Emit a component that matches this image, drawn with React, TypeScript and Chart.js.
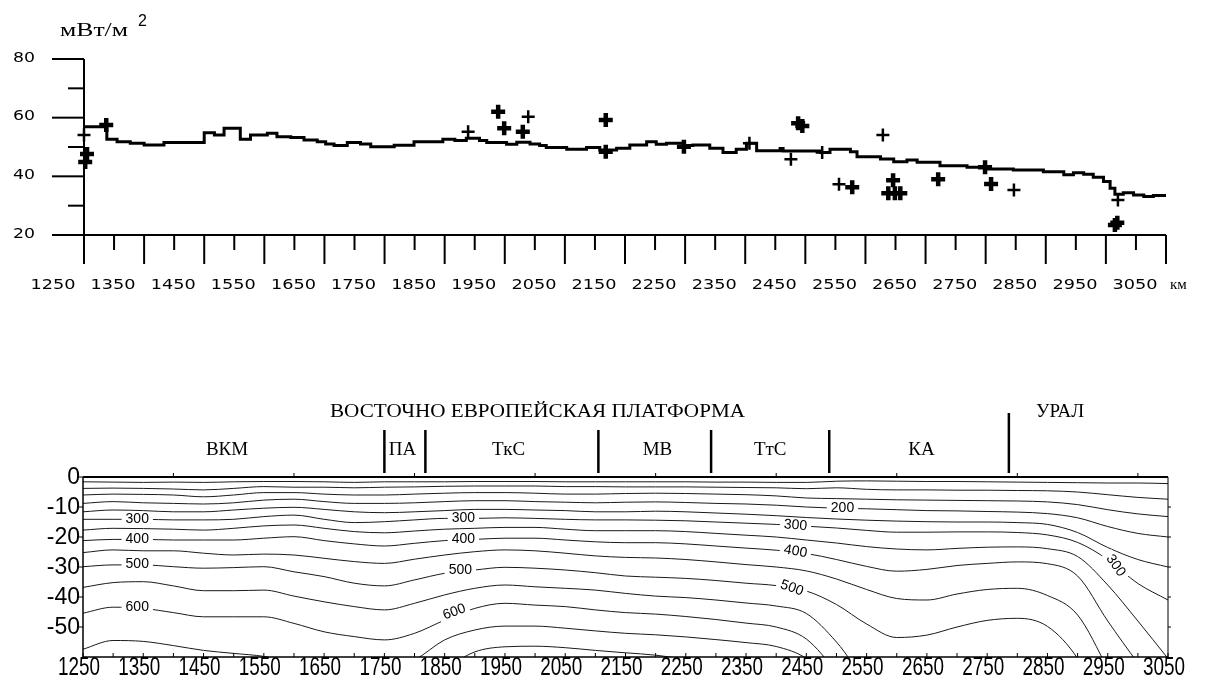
import React, { useEffect, useRef } from 'react';
import { Chart, registerables } from 'chart.js';
Chart.register(...registerables);

const W = 1218;
const H = 684;

// ---------- top panel: heat flow (мВт/м2) ----------
const heatStepKm = [1250,1288,1305,1327,1350,1383,1450,1467,1483,1510,1527,1555,1571,1594,1616,1638,1652,1666,1688,1710,1727,1766,1799,1847,1867,1886,1908,1920,1953,1970,1992,2008,2019,2053,2086,2108,2136,2158,2186,2202,2219,2247,2263,2291,2313,2335,2352,2369,2408,2413,2475,2491,2525,2536,2575,2597,2619,2636,2674,2719,2752,2796,2846,2880,2896,2913,2929,2946,2957,2965,2979,2996,3013,3029,3050];
const heatStepVal = [56.9,52.6,51.8,51.3,50.7,51.5,54.9,54.1,56.4,52.6,54.1,54.7,53.5,53.2,52.4,51.8,51.0,50.5,51.5,51.0,50.1,50.6,51.8,52.6,52.2,53.0,52.2,51.5,50.9,51.6,51.0,50.5,49.8,49.2,49.8,49.0,49.6,50.7,51.8,50.9,51.3,50.5,50.7,49.6,48.1,49.2,51.3,48.7,49.5,48.6,48.1,49.2,48.4,46.7,45.9,45.0,45.6,44.8,43.6,43.1,42.5,42.2,41.6,40.5,41.2,40.7,39.7,38.2,35.9,33.9,34.4,33.6,33.1,33.5,33.5];

const thinCrossKm = [1250,1889,1989,2357,2426,2506,2579,2797,2970,2478];
const thinCrossVal = [54.1,55.2,60.3,51.3,45.8,37.3,54.1,35.3,31.9,48.1];
const boldCrossKm = [1255,1252,1287,1939,1949,1980,2118,2118,2248,2438,2445,2528,2596,2588,2599,2608,2671,2749,2759,2969,2965];
const boldCrossVal = [47.6,44.9,57.5,62.0,56.4,55.2,59.2,48.4,50.1,58.1,57.2,36.3,38.7,34.2,34.2,34.2,39.0,43.1,37.4,24.2,23.4];

const topXTicks = [1250,1350,1450,1550,1650,1750,1850,1950,2050,2150,2250,2350,2450,2550,2650,2750,2850,2950,3050];
const topYTicks = [20,40,60,80];

// ---------- bottom panel: isotherms (°C) vs depth (km) ----------
const isoKm = [1250,1300,1350,1400,1450,1500,1550,1600,1650,1700,1750,1800,1850,1900,1950,2000,2050,2100,2150,2200,2250,2300,2350,2400,2450,2500,2550,2600,2650,2700,2750,2800,2850,2900,2950,3000,3050];
const iso50 = [-1.6,-1.7,-1.8,-1.7,-1.8,-1.6,-1.5,-1.5,-1.6,-1.8,-1.6,-1.6,-1.6,-1.5,-1.5,-1.5,-1.6,-1.6,-1.6,-1.6,-1.6,-1.7,-1.7,-1.8,-1.8,-1.4,-1.3,-1.4,-1.5,-1.5,-1.6,-1.7,-1.8,-1.9,-2.0,-2.0,-2.2];
const iso100 = [-3.8,-3.7,-3.8,-4.0,-4.3,-3.8,-3.2,-3.4,-3.4,-3.6,-3.4,-3.3,-3.1,-3.0,-3.0,-3.0,-3.2,-3.2,-3.3,-3.3,-3.3,-3.4,-3.5,-3.6,-3.9,-3.6,-4.1,-4.3,-4.3,-4.4,-4.4,-4.5,-4.6,-5.0,-5.9,-6.8,-7.4];
const iso150 = [-6.0,-5.7,-5.8,-6.0,-6.6,-6.0,-5.2,-5.2,-5.7,-6.0,-6.0,-5.7,-5.4,-5.2,-5.2,-5.4,-5.7,-5.7,-5.5,-5.4,-5.5,-5.7,-5.9,-6.3,-7.0,-7.2,-7.4,-7.6,-7.7,-7.8,-7.9,-8.0,-8.3,-9.2,-10.9,-12.3,-13.2];
const iso200 = [-8.8,-8.2,-8.6,-8.8,-9.0,-8.6,-7.7,-7.4,-8.2,-8.8,-8.8,-8.6,-8.2,-7.9,-7.9,-8.2,-8.4,-8.6,-8.4,-8.3,-8.5,-8.8,-9.0,-9.4,-10.0,-10.4,-10.6,-10.9,-11.2,-11.3,-11.5,-11.7,-12.2,-13.6,-16.5,-18.8,-20.0];
const iso250 = [-11.6,-11.0,-11.2,-11.6,-11.6,-11.0,-10.4,-10.1,-10.8,-11.6,-11.9,-11.6,-11.2,-10.8,-10.8,-11.0,-11.2,-11.6,-11.6,-11.4,-11.6,-12.0,-12.4,-12.9,-13.5,-14.0,-14.4,-14.7,-14.9,-15.0,-15.0,-15.2,-15.8,-18.5,-23.5,-27.5,-30.0];
const iso300 = [-14.1,-14.1,-14.1,-14.3,-14.3,-14.1,-13.2,-12.7,-14.1,-15.2,-14.9,-14.3,-13.8,-13.8,-13.6,-13.8,-14.1,-14.3,-14.3,-14.4,-14.6,-15.0,-15.4,-15.8,-16.4,-17.0,-17.8,-18.4,-18.4,-18.3,-18.3,-18.5,-19.3,-21.8,-27.5,-35.5,-41.0];
const iso350 = [-17.7,-17.1,-17.2,-17.4,-17.7,-17.1,-16.3,-16.0,-17.1,-18.2,-18.6,-18.0,-17.4,-17.1,-16.8,-16.8,-17.4,-17.9,-17.9,-17.9,-18.2,-18.8,-19.4,-20.0,-21.0,-22.0,-23.2,-24.0,-24.3,-23.8,-23.4,-23.3,-23.9,-26.5,-36.0,-48.0,-60.5];
const iso400 = [-21.2,-20.8,-20.8,-21.0,-21.0,-21.0,-20.4,-19.9,-21.2,-22.3,-23.0,-22.1,-21.2,-20.8,-20.4,-20.4,-21.0,-21.6,-21.9,-21.9,-22.3,-23.0,-23.7,-24.4,-25.5,-27.5,-29.8,-31.4,-30.8,-29.5,-28.8,-28.3,-28.9,-33.0,-48.0,-62.0,-75.0];
const iso450 = [-25.2,-24.3,-24.6,-24.6,-25.4,-26.0,-25.7,-26.0,-27.1,-28.2,-28.8,-27.4,-26.0,-24.9,-24.3,-24.6,-25.4,-26.3,-26.8,-27.0,-27.5,-28.3,-29.2,-30.0,-31.3,-34.0,-37.5,-40.5,-41.0,-39.0,-37.5,-37.1,-39.5,-46.0,-64.0,-85.0,-95.0];
const iso500 = [-29.9,-29.3,-29.3,-29.9,-30.4,-30.2,-29.9,-31.6,-33.2,-35.4,-36.3,-34.3,-32.1,-31.0,-30.1,-30.4,-31.0,-31.9,-33.0,-33.4,-33.8,-34.5,-35.4,-36.2,-38.0,-42.5,-49.0,-53.5,-52.7,-50.0,-47.8,-47.1,-49.8,-60.5,-80.0,-100.0,-100.0];
const iso550 = [-36.8,-35.2,-34.9,-36.3,-37.9,-37.9,-37.7,-39.7,-41.6,-43.2,-44.3,-42.1,-39.3,-37.1,-36.0,-36.6,-37.1,-37.7,-38.8,-39.7,-40.2,-41.0,-42.0,-43.0,-45.5,-55.0,-68.0,-75.0,-75.0,-75.0,-75.0,-75.0,-80.0,-90.0,-100.0,-100.0,-100.0];
const iso600 = [-45.4,-43.4,-43.8,-45.2,-46.6,-46.6,-46.6,-48.8,-51.6,-53.2,-54.3,-52.1,-47.7,-43.8,-42.1,-42.7,-43.2,-44.3,-45.2,-45.7,-46.5,-47.5,-48.7,-50.0,-54.0,-65.0,-78.0,-85.0,-85.0,-85.0,-85.0,-85.0,-90.0,-100.0,-100.0,-100.0,-100.0];
const iso650 = [-57.4,-54.5,-54.8,-56.2,-57.8,-58.8,-59.8,-62.0,-64.0,-65.0,-64.5,-61.0,-54.3,-51.0,-49.7,-49.7,-50.4,-51.3,-52.1,-52.6,-53.3,-54.2,-55.2,-56.5,-60.5,-70.0,-85.0,-95.0,-95.0,-95.0,-95.0,-95.0,-100.0,-100.0,-100.0,-100.0,-100.0];
const iso700 = [-75.0,-72.0,-72.0,-74.0,-76.0,-77.0,-78.0,-80.0,-80.0,-80.0,-76.0,-70.0,-64.0,-58.3,-56.6,-56.4,-56.9,-57.8,-58.6,-59.4,-61.0,-64.0,-68.0,-72.0,-78.0,-85.0,-95.0,-100.0,-100.0,-100.0,-100.0,-100.0,-100.0,-100.0,-100.0,-100.0,-100.0];
const isoSeries = [iso50, iso100, iso150, iso200, iso250, iso300, iso350, iso400, iso450, iso500, iso550, iso600, iso650, iso700];

const contourLabelText = ['300','400','500','600','300','400','500','600','200','300','400','500','300'];
const contourLabelKm = [1340,1340,1340,1340,1881,1881,1876,1866,2510,2432,2432,2426,2963];
const contourLabelDepth = [-14.1,-20.8,-29.2,-43.4,-13.8,-20.8,-31.2,-45.0,-10.4,-16.1,-24.8,-37.0,-29.5];
const contourLabelAngle = [0,0,0,0,0,0,0,-20,0,5,10,20,55];

const botXTicks = [1250,1350,1450,1550,1650,1750,1850,1950,2050,2150,2250,2350,2450,2550,2650,2750,2850,2950,3050];
const botYTicks = [0,-10,-20,-30,-40,-50];

const provinceNames = ['ВКМ','ПА','ТкС','МВ','ТтС','КА'];
const provinceCenterKm = [1489,1780,1956,2203,2390,2641];
const provinceBoundKm = [1750,1818,2105,2292,2488,2786];
const platformTitle = 'ВОСТОЧНО ЕВРОПЕЙСКАЯ ПЛАТФОРМА';
const platformCenterKm = 2004;
const uralTitle = 'УРАЛ';
const uralCenterKm = 2871;

// ---------- drawing helpers ----------
function txt(ctx: CanvasRenderingContext2D, s: string, x: number, y: number, font: string,
  align: CanvasTextAlign = 'center', targetW = 0, rotDeg = 0) {
  ctx.save();
  ctx.translate(x, y);
  if (rotDeg) ctx.rotate((rotDeg * Math.PI) / 180);
  ctx.font = font;
  const w = ctx.measureText(s).width;
  const sx = targetW > 0 ? targetW / w : 1;
  ctx.scale(sx, 1);
  ctx.textAlign = align;
  ctx.textBaseline = 'middle';
  ctx.fillStyle = '#000';
  ctx.fillText(s, 0, 0);
  ctx.restore();
}
function seg(ctx: CanvasRenderingContext2D, x1: number, y1: number, x2: number, y2: number, lw: number) {
  ctx.lineWidth = lw;
  ctx.beginPath();
  ctx.moveTo(x1, y1);
  ctx.lineTo(x2, y2);
  ctx.stroke();
}

const topAxesPlugin = {
  id: 'topAxes',
  afterDraw(chart: any) {
    const { ctx, scales } = chart;
    const x = scales.x, y = scales.y;
    ctx.save();
    ctx.strokeStyle = '#000';
    ctx.lineCap = 'butt';
    const x0 = x.getPixelForValue(1250);
    const x1 = x.getPixelForValue(3050);
    const yb = y.getPixelForValue(20);
    const yt = y.getPixelForValue(80);
    seg(ctx, x0, yt, x0, yb, 2);
    seg(ctx, x0 - 32, yb, x1, yb, 2);
    for (let v = 30; v <= 80; v += 10) {
      const py = y.getPixelForValue(v);
      const len = v % 20 === 0 ? 32 : 16;
      seg(ctx, x0 - len, py, x0, py, 2);
    }
    for (let v = 1250; v <= 3050; v += 50) {
      const px = x.getPixelForValue(v);
      const len = (v - 1250) % 100 === 0 ? 29 : 15;
      seg(ctx, px, yb, px, yb + len, 2);
    }
    for (const v of topXTicks) {
      txt(ctx, String(v), x.getPixelForValue(v) - 31, yb + 50, '14px "DejaVu Sans"', 'center', 45);
    }
    for (const v of topYTicks) {
      txt(ctx, String(v), 35, y.getPixelForValue(v) - 1, '14px "DejaVu Sans"', 'right', 22);
    }
    txt(ctx, 'км', x1 + 4, yb + 50, '15px "Liberation Serif"', 'left');
    txt(ctx, 'мВт/м', 60, 31, '19px "Liberation Serif"', 'left', 68);
    txt(ctx, '2', 138, 22, '16px "Liberation Sans"', 'left');
    ctx.restore();
  },
};

const botAxesPlugin = {
  id: 'botAxes',
  afterDatasetsDraw(chart: any) {
    const { ctx, scales } = chart;
    const x = scales.x, y = scales.y;
    ctx.save();
    for (let i = 0; i < contourLabelText.length; i++) {
      const px = x.getPixelForValue(contourLabelKm[i]);
      const py = y.getPixelForValue(contourLabelDepth[i]);
      ctx.save();
      ctx.translate(px, py);
      ctx.rotate((contourLabelAngle[i] * Math.PI) / 180);
      ctx.font = '14px "Liberation Sans"';
      const w = ctx.measureText(contourLabelText[i]).width;
      ctx.fillStyle = '#fff';
      ctx.fillRect(-w / 2 - 4, -6, w + 8, 12);
      ctx.restore();
      txt(ctx, contourLabelText[i], px, py, '14px "Liberation Sans"', 'center', 0, contourLabelAngle[i]);
    }
    ctx.restore();
  },
  afterDraw(chart: any) {
    const { ctx, scales, chartArea } = chart;
    const x = scales.x, y = scales.y;
    const { left, right, top, bottom } = chartArea;
    ctx.save();
    ctx.strokeStyle = '#000';
    seg(ctx, left, top, right, top, 2);
    seg(ctx, left, top, left, bottom, 1.5);
    seg(ctx, left, bottom, right, bottom, 1.5);
    seg(ctx, right, top, right, bottom, 1);
    for (let v = 1400; v <= 3000; v += 200) {
      const px = x.getPixelForValue(v);
      seg(ctx, px, top, px, top - 4, 1);
    }
    for (let v = 1250; v <= 3050; v += 50) {
      const px = x.getPixelForValue(v);
      seg(ctx, px, bottom, px, bottom - 4, 1);
    }
    for (const v of botYTicks) {
      const py = y.getPixelForValue(v);
      seg(ctx, left - 5, py, left, py, 1);
      if (v !== 0) seg(ctx, right, py, right + 3, py, 1);
    }
    for (const v of botXTicks) {
      txt(ctx, String(v), x.getPixelForValue(v) - 4, bottom + 11, '26px "Liberation Sans"', 'center', 42);
    }
    for (const v of botYTicks) {
      txt(ctx, String(v), left - 3, y.getPixelForValue(v) + 1, '23px "Liberation Sans"', 'right');
    }
    // provinces
    for (let i = 0; i < provinceBoundKm.length; i++) {
      const px = x.getPixelForValue(provinceBoundKm[i]);
      const yTop = i === provinceBoundKm.length - 1 ? top - 64 : top - 47;
      seg(ctx, px, yTop, px, top - 4, 2.5);
    }
    for (let i = 0; i < provinceNames.length; i++) {
      txt(ctx, provinceNames[i], x.getPixelForValue(provinceCenterKm[i]), top - 27, '19px "Liberation Serif"', 'center');
    }
    txt(ctx, platformTitle, x.getPixelForValue(platformCenterKm), top - 65, '19px "Liberation Serif"', 'center', 415);
    txt(ctx, uralTitle, x.getPixelForValue(uralCenterKm), top - 65, '19px "Liberation Serif"', 'center');
    ctx.restore();
  },
};

export default function App() {
  const topRef = useRef<HTMLCanvasElement>(null);
  const botRef = useRef<HTMLCanvasElement>(null);

  useEffect(() => {
    const topChart = new Chart(topRef.current as HTMLCanvasElement, {
      type: 'line',
      data: {
        datasets: [
          {
            data: heatStepKm.map((k, i) => ({ x: k, y: heatStepVal[i] })),
            stepped: 'before',
            borderColor: '#000',
            borderWidth: 3,
            pointRadius: 0,
            fill: false,
            clip: false,
          } as any,
          {
            type: 'scatter',
            data: thinCrossKm.map((k, i) => ({ x: k, y: thinCrossVal[i] })),
            showLine: false,
            pointStyle: 'cross',
            pointRadius: 6.5,
            pointBorderWidth: 2.5,
            pointBorderColor: '#000',
            pointBackgroundColor: '#000',
            clip: false,
          } as any,
          {
            type: 'scatter',
            data: boldCrossKm.map((k, i) => ({ x: k, y: boldCrossVal[i] })),
            showLine: false,
            pointStyle: 'cross',
            pointRadius: 7,
            pointBorderWidth: 4.5,
            pointBorderColor: '#000',
            pointBackgroundColor: '#000',
            clip: false,
          } as any,
        ],
      },
      options: {
        responsive: false,
        animation: false,
        devicePixelRatio: 1,
        layout: { padding: { left: 84, right: W - 1166, top: 59, bottom: H - 235 } },
        scales: {
          x: { type: 'linear', min: 1250, max: 3050, display: false },
          y: { type: 'linear', min: 20, max: 80, display: false },
        },
        plugins: { legend: { display: false }, tooltip: { enabled: false } },
      },
      plugins: [topAxesPlugin],
    } as any);

    const botChart = new Chart(botRef.current as HTMLCanvasElement, {
      type: 'line',
      data: {
        datasets: isoSeries.map((arr) => ({
          data: isoKm.map((k, i) => ({ x: k, y: arr[i] })),
          borderColor: '#1a1a1a',
          borderWidth: 1,
          pointRadius: 0,
          cubicInterpolationMode: 'monotone',
          fill: false,
        })),
      },
      options: {
        responsive: false,
        animation: false,
        devicePixelRatio: 1,
        layout: { padding: { left: 83, right: W - 1168, top: 477, bottom: H - 657 } },
        scales: {
          x: { type: 'linear', min: 1250, max: 3050, display: false },
          y: { type: 'linear', min: -60, max: 0, display: false },
        },
        plugins: { legend: { display: false }, tooltip: { enabled: false } },
      },
      plugins: [botAxesPlugin],
    } as any);

    return () => {
      topChart.destroy();
      botChart.destroy();
    };
  }, []);

  return (
    <div style={{ position: 'absolute', left: 0, top: 0, width: W, height: H, background: '#fff', overflow: 'hidden' }}>
      <canvas ref={topRef} width={W} height={H} style={{ position: 'absolute', left: 0, top: 0 }} />
      <canvas ref={botRef} width={W} height={H} style={{ position: 'absolute', left: 0, top: 0 }} />
    </div>
  );
}
